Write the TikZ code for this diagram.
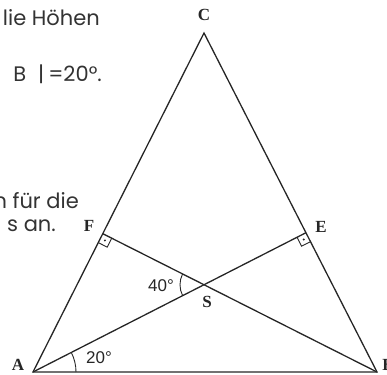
\documentclass[tikz,border=0pt]{standalone}
\usepackage{fontspec}
\usetikzlibrary{calc,angles}
\newfontfamily\txtsans{Poppins}
\newfontfamily\numsans{Liberation Sans}
\newfontfamily\labserif{Liberation Serif}
\begin{document}
\begin{tikzpicture}[x=1pt,y=-1pt,
  edge/.style={line width=1.3pt,black!85},
  thin/.style={line width=0.9pt,black!85},
  para/.style={font=\txtsans\fontsize{21}{24}\selectfont,text=black!80,inner sep=0pt},
  vlab/.style={font=\labserif\bfseries\fontsize{17}{18}\selectfont,text=black!85,inner sep=0pt},
  alab/.style={font=\numsans\fontsize{17}{18}\selectfont,text=black!85,inner sep=0pt}]
\useasboundingbox (0,0) rectangle (387,374);
\clip (0,0) rectangle (387,374);
% text fragments
\node[para,anchor=base east] (t1) at (100,26) {lie Höhen};
\node[para,anchor=base east] (t2) at (102,82) {B\hspace{12pt}|\hspace{4pt}=20°.};
\node[para,anchor=base east] (t3) at (79,208) {n für die};
\node[para,anchor=base east] (t4) at (56,231) {s an.};
% triangle
\coordinate (A) at (33,372);
\coordinate (B) at (377,372);
\coordinate (C) at (204,33);
\coordinate (F) at ($(A)!(B)!(C)$);
\coordinate (E) at ($(B)!(A)!(C)$);
\coordinate (S) at (intersection of A--E and B--F);
\draw[edge] (A) -- (B) -- (C) -- cycle;
\draw[edge] (A) -- (E);
\draw[edge] (B) -- (F);
% right angle marks
\coordinate (Fa) at ($(F)!10pt!(A)$);
\coordinate (Fb) at ($(F)!10pt!(B)$);
\coordinate (Fab) at ($(Fa)+(Fb)-(F)$);
\draw[thin] (Fa) -- (Fab) -- (Fb);
\fill[black!85] ($(F)!0.5!(Fab)$) circle (1.1pt);
\coordinate (Eb) at ($(E)!10pt!(B)$);
\coordinate (Ea) at ($(E)!10pt!(A)$);
\coordinate (Eab) at ($(Ea)+(Eb)-(E)$);
\draw[thin] (Ea) -- (Eab) -- (Eb);
\fill[black!85] ($(E)!0.5!(Eab)$) circle (1.1pt);
% angles
\pic[draw,thin,angle radius=43pt] {angle = B--A--E};
\pic[draw,thin,angle radius=24pt] {angle = F--S--A};
\node[alab] (a20) at (99,358) {20°};
\node[alab] (a40) at (161,286) {40°};
% vertex labels
\node[vlab] (lA) at (18,365) {A};
\node[vlab] (lB) at (388,365) {B};
\node[vlab] (lC) at (204,15) {C};
\node[vlab] (lE) at (321,227) {E};
\node[vlab] (lF) at (89,226) {F};
\node[vlab] (lS) at (207,302) {S};
\end{tikzpicture}
\end{document}
